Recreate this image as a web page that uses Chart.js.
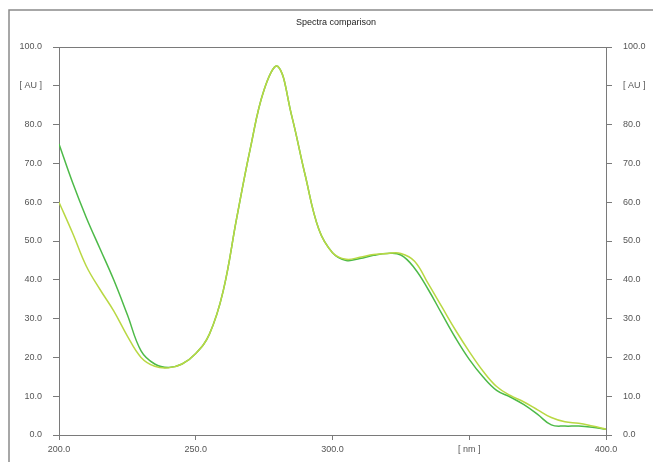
<!DOCTYPE html>
<html>
<head>
<meta charset="utf-8">
<title>Spectra comparison</title>
<script src="https://cdn.jsdelivr.net/npm/chart.js@4.4.1/dist/chart.umd.min.js"></script>
<style>
  html, body { margin: 0; padding: 0; background: #fff; }
  #wrap { position: relative; width: 653px; height: 462px; }
</style>
</head>
<body>
<div id="wrap"><canvas id="spectra" width="653" height="462"></canvas></div>
<script>
// wavelengths in nm, one value every 5 nm
var wavelengths = [200, 205, 210, 215, 220, 225, 230, 235, 240, 245,
                   250, 255, 260, 265, 270, 275, 280, 285, 290, 295,
                   300, 305, 310, 315, 320, 325, 330, 335, 340, 345,
                   350, 355, 360, 365, 370, 375, 380, 385, 390, 395, 400];
// absorbance [AU], dark green trace
var spectrumA = [75, 65, 56, 48, 40, 31, 21.7, 18.3, 17.4, 18.3,
                 21, 26, 37, 56, 74, 89, 95, 82.5, 67, 53,
                 47, 45, 45.5, 46.3, 46.8, 46.4, 43, 37.5, 31.2, 25,
                 19.5, 15, 11.5, 9.8, 7.8, 5.3, 2.6, 2.3, 2.3, 2.0, 1.5];
// absorbance [AU], light green trace
var spectrumB = [60, 52, 43.5, 37.5, 32, 25.5, 20, 17.7, 17.3, 18.3,
                 21, 26, 37, 56, 74, 89, 95, 82.5, 67, 53,
                 47, 45.3, 45.8, 46.5, 46.8, 46.8, 44.8, 39, 33, 27,
                 21.5, 16.5, 12.5, 10.2, 8.5, 6.5, 4.5, 3.4, 3.0, 2.3, 1.5];

var xTicks = [200, 250, 300, 350, 400];
var xTickLabels = ["200.0", "250.0", "300.0", "[ nm ]", "400.0"];
var yTicks = [0, 10, 20, 30, 40, 50, 60, 70, 80, 90, 100];
var yTickLabels = ["0.0", "10.0", "20.0", "30.0", "40.0", "50.0", "60.0", "70.0", "80.0", "[ AU ]", "100.0"];

function points(ys) {
  return wavelengths.map(function (w, i) { return { x: w, y: ys[i] }; });
}

var axisGrey = "#7a7a7a";
var tickFont = { family: "'Liberation Sans', Arial, sans-serif", size: 9 };

function yAxis(pos, width) {
  return {
    type: "linear",
    position: pos,
    min: 0,
    max: 100,
    afterBuildTicks: function (s) { s.ticks = yTicks.map(function (v) { return { value: v }; }); },
    afterFit: function (s) { s.width = width; },
    ticks: {
      font: tickFont,
      color: "#555",
      padding: 11,
      callback: function (v) { return yTickLabels[yTicks.indexOf(v)]; }
    },
    grid: { drawOnChartArea: false, drawTicks: true, tickLength: 6, color: axisGrey },
    border: { display: true, color: axisGrey, width: 1 }
  };
}

// page frame + title
var framePlugin = {
  id: "frame",
  afterDraw: function (chart) {
    var ctx = chart.ctx;
    ctx.save();
    ctx.strokeStyle = "#8a8a8a";
    ctx.lineWidth = 1.5;
    ctx.beginPath();
    ctx.moveTo(9, 462);
    ctx.lineTo(9, 10);
    ctx.lineTo(653, 10);
    ctx.stroke();
    ctx.fillStyle = "#222";
    ctx.font = "9px 'Liberation Sans', Arial, sans-serif";
    ctx.textAlign = "center";
    ctx.textBaseline = "middle";
    ctx.fillText("Spectra comparison", 336, 23);
    ctx.restore();
  }
};

new Chart(document.getElementById("spectra"), {
  type: "line",
  data: {
    datasets: [{
      label: "Spectrum 2",
      data: points(spectrumB),
      borderColor: "#b9d843",
      borderWidth: 1.5,
      pointRadius: 0,
      tension: 0.4,
      fill: false
    }, {
      label: "Spectrum 1",
      data: points(spectrumA),
      borderColor: "#4dba48",
      borderWidth: 1.5,
      pointRadius: 0,
      tension: 0.4,
      fill: false
    }]
  },
  options: {
    responsive: false,
    animation: false,
    layout: { padding: { top: 47, left: 0, right: 0, bottom: 0 } },
    plugins: {
      legend: { display: false },
      tooltip: { enabled: false }
    },
    scales: {
      x: {
        type: "linear",
        position: "bottom",
        min: 200,
        max: 400,
        afterBuildTicks: function (s) { s.ticks = xTicks.map(function (v) { return { value: v }; }); },
        afterFit: function (s) { s.height = 27; },
        ticks: {
          font: tickFont,
          color: "#555",
          padding: 4,
          maxRotation: 0,
          callback: function (v) { return xTickLabels[xTicks.indexOf(v)]; }
        },
        grid: { drawOnChartArea: false, drawTicks: true, tickLength: 5, color: axisGrey },
        border: { display: true, color: axisGrey, width: 1 }
      },
      xTop: {
        type: "linear",
        position: "top",
        min: 200,
        max: 400,
        afterFit: function (s) { s.height = 0; },
        ticks: { display: false },
        grid: { display: false, drawTicks: false },
        border: { display: true, color: axisGrey, width: 1 }
      },
      y: yAxis("left", 59),
      y2: yAxis("right", 47)
    }
  },
  plugins: [framePlugin]
});
</script>
</body>
</html>
